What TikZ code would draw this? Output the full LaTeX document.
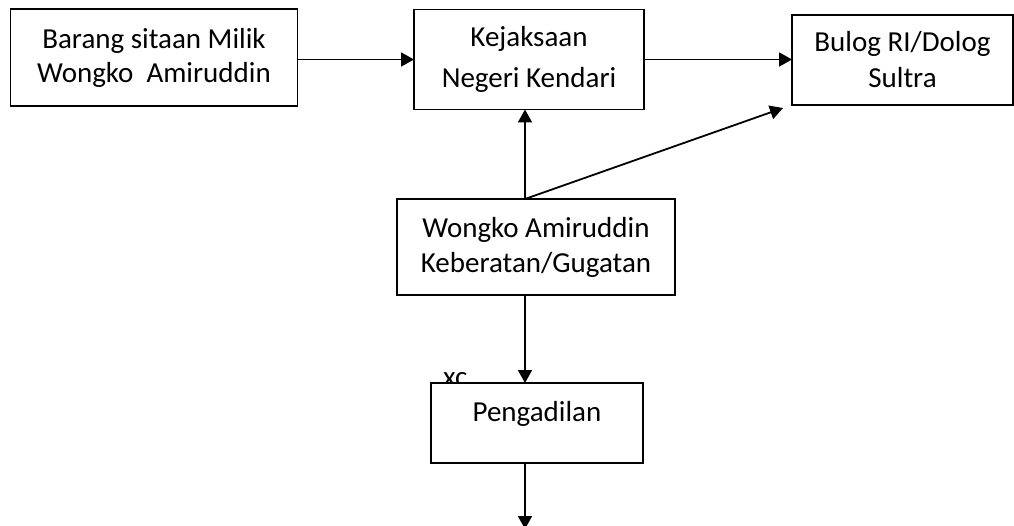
\documentclass[tikz,border=0pt]{standalone}
\usepackage{fontspec}
\setmainfont{Carlito}
\usetikzlibrary{arrows.meta}
\tikzset{
  box/.style={draw, line width=1.8pt, fill=white, inner sep=0pt, outer sep=0pt, align=center,
    font=\fontsize{29}{34}\selectfont},
  arr/.style={line width=1.8pt, -{Triangle[length=13pt,width=14pt]}},
}
\begin{document}
\begin{tikzpicture}[x=1pt,y=-1pt]
\clip (0,0) rectangle (1014,526);
\fill[white] (0,0) rectangle (1014,526);
\node[box, minimum width=287pt, minimum height=97pt] (b1) at (154,57.5) {Barang sitaan Milik\\Wongko\ \ Amiruddin};
\node[box, minimum width=230pt, minimum height=100pt, font=\fontsize{29}{41}\selectfont] (b2) at (529,59.5) {Kejaksaan\\Negeri Kendari};
\node[box, minimum width=221pt, minimum height=90pt, font=\fontsize{29}{36}\selectfont] (b3) at (902.5,60) {Bulog RI/Dolog\\Sultra};
\node[box, minimum width=278pt, minimum height=96pt, font=\fontsize{29}{35}\selectfont] (b4) at (536,247) {Wongko Amiruddin\\Keberatan/Gugatan};
\node[font=\fontsize{29}{34}\selectfont, anchor=base west, inner sep=0pt] (xc) at (443,386.5) {xc};
\node[box, minimum width=212pt, minimum height=80pt, text depth=23pt] (b5) at (537,423) {Pengadilan};
\coordinate (j) at (525,199);
\coordinate (d) at (783,108);
\coordinate (e) at (525,529);
\draw[arr] (b1.east |- b2.west) -- (b2.west);
\draw[arr] (b2.east) -- (b2.east -| b3.west);
\draw[arr] (j) -- (j |- b2.south);
\draw[arr] (j) -- (d);
\draw[arr] (j |- b4.south) -- (j |- b5.north);
\draw[arr] (j |- b5.south) -- (e);
\end{tikzpicture}
\end{document}
